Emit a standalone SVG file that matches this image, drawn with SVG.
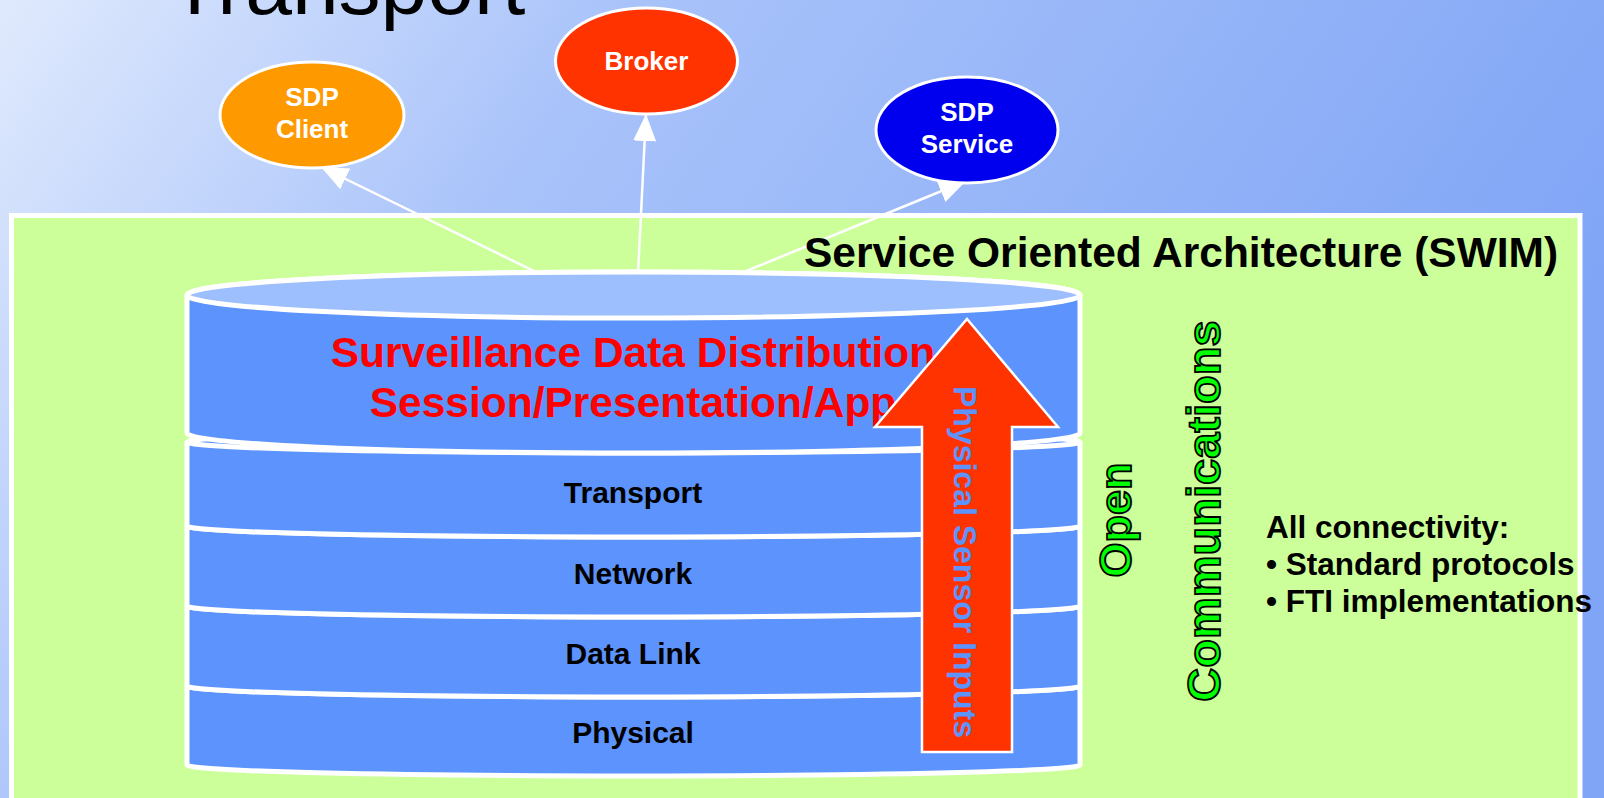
<svg xmlns="http://www.w3.org/2000/svg" width="1604" height="798" viewBox="0 0 1604 798">
  <defs>
    <linearGradient id="bg" x1="0" y1="0" x2="1" y2="0.35">
      <stop offset="0" stop-color="#e0eafd"/>
      <stop offset="0.35" stop-color="#a9c3fa"/>
      <stop offset="1" stop-color="#80a5f6"/>
    </linearGradient>
    <marker id="arr" viewBox="0 0 27 23" refX="27" refY="11.5" markerWidth="27" markerHeight="23" markerUnits="userSpaceOnUse" orient="auto">
      <path d="M0,0 L27,11.5 L0,23 Z" fill="#ffffff"/>
    </marker>
    <style>
      .node text { font-family: "Liberation Sans", Arial, sans-serif; font-weight: bold; font-size: 26px; fill: #ffffff; text-anchor: middle; }
      .node ellipse { stroke: #ffffff; stroke-width: 3; }
      .layer { fill: #5c93fd; stroke: #ffffff; stroke-width: 5; stroke-linejoin: round; }
      .arc { fill: none; stroke: #ffffff; stroke-width: 5; }
      .lbl { font-family: "Liberation Sans", Arial, sans-serif; font-weight: bold; font-size: 30px; fill: #000000; text-anchor: middle; }
      .conn { stroke: #ffffff; stroke-width: 2.5; fill: none; marker-end: url(#arr); }
      .bold { font-family: "Liberation Sans", Arial, sans-serif; font-weight: bold; }
      .green { fill: #00ff00; stroke: #000000; stroke-width: 1.8; text-anchor: middle; }
    </style>
  </defs>

  <rect x="0" y="0" width="1604" height="798" fill="url(#bg)"/>

  <text x="169" y="14" font-family="Liberation Sans, Arial, sans-serif" font-size="84" fill="#000000">Transport</text>

  <rect id="soa-panel" x="11.5" y="215.5" width="1568.5" height="600" fill="#ccff99" stroke="#ffffff" stroke-width="5"/>

  <g id="connectors">
    <line class="conn" x1="540" y1="274" x2="321" y2="167"/>
    <line class="conn" x1="638" y1="274" x2="646" y2="114"/>
    <line class="conn" x1="739" y1="274" x2="966" y2="181"/>
  </g>

  <g id="sdp-client" class="node">
    <ellipse cx="312" cy="115" rx="92" ry="53" fill="#ff9900"/>
    <text x="312" y="106">SDP</text>
    <text x="312" y="138">Client</text>
  </g>
  <g id="broker" class="node">
    <ellipse cx="646.5" cy="61" rx="91" ry="53" fill="#ff3300"/>
    <text x="646.5" y="70">Broker</text>
  </g>
  <g id="sdp-service" class="node">
    <ellipse cx="967" cy="130" rx="91" ry="53" fill="#0000ee"/>
    <text x="967" y="121">SDP</text>
    <text x="967" y="153">Service</text>
  </g>

  <g id="layer-physical">
    <path class="layer" d="M187,686 A446.5,11 0 0 1 1080,686 L1080,765 A446.5,11 0 0 1 187,765 Z"/>
    <path class="arc" d="M187,686 A446.5,11 0 0 0 1080,686"/>
    <text class="lbl" x="633" y="743">Physical</text>
  </g>
  <g id="layer-datalink">
    <path class="layer" d="M187,606 A446.5,11 0 0 1 1080,606 L1080,686 A446.5,11 0 0 1 187,686 Z"/>
    <path class="arc" d="M187,606 A446.5,11 0 0 0 1080,606"/>
    <text class="lbl" x="633" y="664">Data Link</text>
  </g>
  <g id="layer-network">
    <path class="layer" d="M187,526 A446.5,11 0 0 1 1080,526 L1080,606 A446.5,11 0 0 1 187,606 Z"/>
    <path class="arc" d="M187,526 A446.5,11 0 0 0 1080,526"/>
    <text class="lbl" x="633" y="584">Network</text>
  </g>
  <g id="layer-transport">
    <path class="layer" d="M187,442 A446.5,11 0 0 1 1080,442 L1080,526 A446.5,11 0 0 1 187,526 Z"/>
    <path class="arc" d="M187,442 A446.5,11 0 0 0 1080,442"/>
    <text class="lbl" x="633" y="503">Transport</text>
  </g>
  <g id="layer-sdd">
    <path class="layer" d="M187,295 A446.5,23 0 0 1 1080,295 L1080,433 A446.5,20 0 0 1 187,433 Z"/>
    <ellipse cx="633.5" cy="295" rx="446.5" ry="23" fill="#9ebffd" stroke="#ffffff" stroke-width="5"/>
    <text class="bold" x="633" y="367" font-size="42.5" fill="#ff0000" text-anchor="middle">Surveillance Data Distribution</text>
    <text class="bold" x="633" y="417" font-size="42.5" fill="#ff0000" text-anchor="middle">Session/Presentation/App</text>
  </g>

  <g id="sensor-arrow">
    <polygon points="967,319 1058,427 1012,427 1012,752 922,752 922,427 875,427" fill="#ff3300" stroke="#ffffff" stroke-width="2.5"/>
    <text class="bold" transform="translate(954,562) rotate(90)" font-size="32" fill="#5c93fd" text-anchor="middle">Physical Sensor Inputs</text>
  </g>

  <g id="soa-title">
    <text class="bold" x="804" y="267" font-size="42.5" fill="#000000">Service Oriented Architecture (SWIM)</text>
  </g>

  <g id="open-comms">
    <text class="bold green" transform="translate(1131,520) rotate(-90)" font-size="45">Open</text>
    <text class="bold green" transform="translate(1220,511) rotate(-90)" font-size="47">Communications</text>
  </g>

  <g id="connectivity">
    <text class="bold" x="1266" y="538" font-size="31.5" fill="#000000">All connectivity:</text>
    <text class="bold" x="1266" y="575" font-size="31.5" fill="#000000">• Standard protocols</text>
    <text class="bold" x="1266" y="612" font-size="31.5" fill="#000000">• FTI implementations</text>
  </g>
</svg>
